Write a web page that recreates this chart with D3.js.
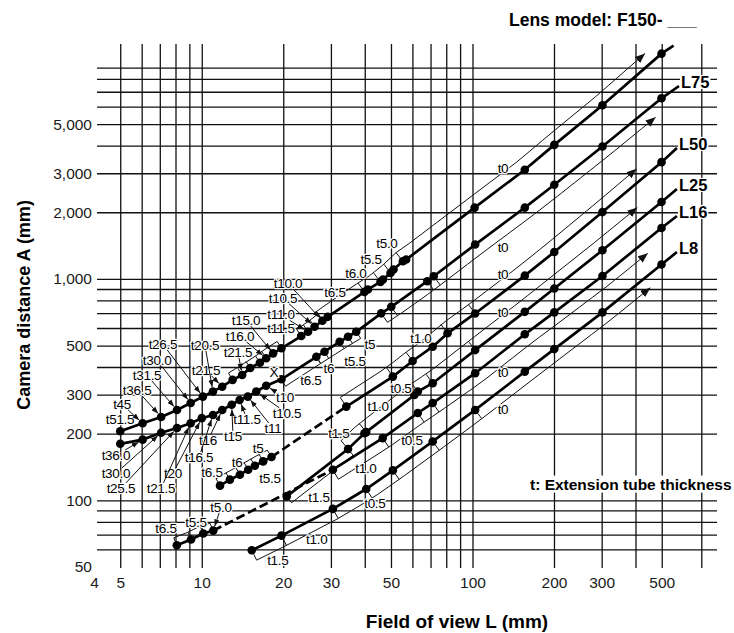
<!DOCTYPE html>
<html><head><meta charset="utf-8">
<script src="https://cdn.jsdelivr.net/npm/d3@7/dist/d3.min.js"></script>
<style>
html,body{margin:0;padding:0;background:#fff;}
svg text{font-family:"Liberation Sans",Arial,Helvetica,sans-serif;}
</style></head>
<body>
<svg id="chart" width="734" height="633" viewBox="0 0 734 633"></svg>
<script>
// ---------- data ----------
const xTickValues=[4,5,10,20,30,50,100,200,300,500];
const yTickValues=[50,100,200,300,500,1000,2000,3000,5000];
const xGridValues=[5,6,7,8,9,10,20,30,40,50,60,70,80,90,100,200,300,400,500,700];
const yGridValues=[60,70,80,90,100,200,300,400,500,600,700,800,900,1000,2000,3000,4000,5000,6000,7000,8000,9000];

const lensNames=["","L75","L50","L25","L16","L8"];

const topDots=[[5,205],[6.05,223],[7.08,238],[8.1,256],[9.1,275],[10.1,294],[11.0,310],[11.9,326],[13.0,350],[14.1,368],[15.1,396],[16.4,418],[17.3,438],[18.35,461],[19.7,486],[23.3,552],[24.7,577],[26.1,608],[27.9,647],[29.2,674],[39.9,874],[41.1,896],[45.7,969],[46.7,994],[49.8,1064],[51.1,1102],[55.3,1201],[56.9,1223],[101.8,2097],[156,3110],[200.5,4030],[302,6080],[499,10400]];
const topEnd=[553,11300];
const l75Dots=[[5,180],[6.05,188],[7.08,202],[8.1,212],[9.1,223],[10.0,235],[11.0,243],[11.9,256],[12.9,270],[13.8,284],[14.8,294],[15.9,310],[17.3,329],[19.7,352],[26.5,445],[28.4,469],[32.3,520],[34.7,548],[37.2,577],[46,699],[50.1,748],[68.1,976],[71.9,1028],[102.3,1429],[156,2097],[200.5,2662],[302,3960],[499,6538]];
const l75End=[579,7432];
const l50Dots=[[11.68,116.5],[12.71,124],[13.83,130.5],[14.84,137.5],[15.71,143.3],[16.86,149.9],[18.1,156.9],[34.2,265],[50.8,362],[60.1,426],[71.3,494],[80.9,568],[102.3,698],[156,1034],[200.5,1323],[302,2003],[499,3366]];
const l50End=[569,3900];
const l50Dashed=[[18.1,34.2]];
const l25Dots=[[20.6,104.2],[34.7,170.4],[39.9,201],[40.5,203.3],[61.0,299],[62.8,310],[71.3,338],[102.3,477],[156,710],[200.5,905],[302,1347],[499,2223]];
const l25End=[569,2547];
const l16Dots=[[8.09,62.7],[9.13,66.5],[10.13,70.8],[11.03,73.0],[30.5,137.5],[46.6,191],[62.8,248],[71.3,275],[102.3,375],[156,562],[200.5,706],[302,1031],[499,1697]];
const l16End=[569,1923];
const l16Dashed=[[11.03,30.5]];
const l8Dots=[[15.3,59.5],[19.7,69.3],[30.5,91.5],[40.5,112.5],[50.8,136.5],[71.3,184.5],[102.3,256],[156,381],[200.5,482],[302,706],[499,1161]];
const l8End=[569,1322];

// range guides: [curve, fromL, toL, side, notch L values]
const arrowGuides=[
 [0,28,460,-1,[39.9,45.7,49.8,55.3]],
 [1,46,448,1,[50.1,68.1,71.9]],
 [2,34.2,429,-1,[50.8,60.1,71.3,80.9,102.3]],
 [3,34.7,431,-1,[40.5,62.8,71.3,102.3]],
 [4,30.5,419,1,[46.6,62.8,71.3]],
 [5,15.3,428,1,[19.7,30.5,40.5,50.8,71.3,102.3]]
];
const bracketGuides=[
 [0,23.3,27.9,-1,[24.7,26.1]],
 [0,13.0,19.7,-1,[14.1,15.1,16.4,17.3,18.35]],
 [1,26.5,37.2,1,[28.4,32.3,34.7]],
 [1,19.7,26.5,1,[]],
 [2,11.68,18.1,-1,[12.71,13.83,14.84,15.71,16.86]],
 [3,20.6,34.7,1,[]],
 [4,8.09,11.03,-1,[9.13,10.13]]
];

// annotations: [curve, text, L, A, arrow target L (or null)]
const annotations=[
 [0,"t51.5",4.99,232,null],[0,"t45",5.08,272,6.05],[0,"t36.5",5.77,315,7.08],[0,"t31.5",6.28,368,8.1],
 [0,"t30.0",6.84,430,9.1],[0,"t26.5",7.19,508,10.1],[0,"t20.5",10.28,503,11.0],[0,"t21.5",10.37,388,11.9],
 [0,"t21.5",13.61,467.6,14.1],[0,"t16.0",13.84,552,17.3],[0,"t15.0",14.57,652,18.35],[0,"t11.5",19.62,598,23.3],
 [0,"t11.0",19.62,690,24.7],[0,"t10.5",19.96,820,26.1],[0,"t10.0",20.83,958,27.9],[0,"t6.5",31.06,873,null],
 [0,"t6.0",37.1,1063,null],[0,"t5.5",42.2,1230,null],[0,"t5.0",48.3,1452,null],[0,"t0",129.6,3168,null],
 [1,"t36.0",4.82,160,6.05],[1,"t30.0",4.82,132.9,7.08],[1,"t25.5",5.03,113.7,8.1],[1,"t21.5",7.07,113.7,9.1],
 [1,"t20",7.83,132.9,10.0],[1,"t16.5",9.77,156.9,11.0],[1,"t16",10.55,187.3,11.9],[1,"t15",13.05,195.2,12.9],
 [1,"t11.5",14.69,233,13.8],[1,"t11",18.33,212,14.8],[1,"t10.5",20.65,248,15.9],[1,"t10",20.3,292.8,17.3],
 [1,"X",18.48,380,null],[1,"t6.5",25.3,349.6,null],[1,"t6",29.5,396,null],[1,"t5.5",36.8,425.8,null],
 [1,"t5",41.8,508,null],[1,"t0",129.6,1393,null],
 [2,"t6.5",10.91,134.3,null],[2,"t6",13.5,149,null],[2,"t5",16.14,172.3,null],[2,"t5.5",17.87,126.2,null],
 [2,"t1.0",64.5,541,null],[2,"t0",129.6,1052,null],
 [3,"t1.5",27.1,103.5,null],[3,"t1.5",32.1,201.5,null],[3,"t1.0",44.8,266.7,null],[3,"t0.5",54.4,321.6,null],
 [3,"t0",129.6,708.7,null],
 [4,"t6.5",7.38,75.0,null],[4,"t5.5",9.52,79.8,null],[4,"t5.0",11.78,93.3,11.03],[4,"t1.0",40.4,140,null],
 [4,"t0.5",59.8,187.3,null],[4,"t0",129.6,380,null],
 [5,"t1.5",19.1,53.8,null],[5,"t1.0",26.6,66.9,null],[5,"t0.5",43.6,97.3,null],[5,"t0",129.6,258.5,null]
];

// ---------- drawing ----------
const svg=d3.select("#chart");
const x=d3.scaleLog().domain([4,800]).range([94,717]);
const y=d3.scaleLog().domain([50,11500]).range([567,44]);

const curves=[
 {dots:topDots,end:topEnd,dash:[]},
 {dots:l75Dots,end:l75End,dash:[]},
 {dots:l50Dots,end:l50End,dash:l50Dashed},
 {dots:l25Dots,end:l25End,dash:[]},
 {dots:l16Dots,end:l16End,dash:l16Dashed},
 {dots:l8Dots,end:l8End,dash:[]}
];
curves.forEach(c=>{c.all=c.dots.concat([c.end]); c.px=c.all.map(d=>[x(d[0]),y(d[1])]);});

function posAt(c,L){
  const px=x(L),P=c.px;let i=0;
  while(i<P.length-2&&P[i+1][0]<px)i++;
  const a=P[i],b=P[i+1];const t=(px-a[0])/(b[0]-a[0]||1);
  return [px,a[1]+t*(b[1]-a[1])];
}
function normalAt(c,L){
  const p1=posAt(c,L/1.3),p2=posAt(c,L*1.3);
  let dx=p2[0]-p1[0],dy=p2[1]-p1[1];const m=Math.hypot(dx,dy)||1;dx/=m;dy/=m;
  return [-dy,dx];
}
function offPt(c,L,d){const p=posAt(c,L),n=normalAt(c,L);return [p[0]+n[0]*d,p[1]+n[1]*d];}

// grid
const grid=svg.append("g");
grid.append("g").attr("transform",`translate(0,${y(50)+1})`)
  .call(d3.axisBottom(x).tickValues(xGridValues).tickSize(-(y(50)+1-y(11500))).tickFormat(""));
grid.append("g").attr("transform",`translate(${x(4)+3},0)`)
  .call(d3.axisLeft(y).tickValues(yGridValues).tickSize(-(x(800)-x(4)-3)).tickFormat(""));
grid.selectAll(".domain").remove();
grid.selectAll(".tick line").attr("stroke","#111").attr("stroke-width",1.3);

// axis labels
const ax=svg.append("g").attr("transform",`translate(0,${y(50)})`)
  .call(d3.axisBottom(x).tickValues(xTickValues).tickSize(0).tickPadding(10).tickFormat(d3.format("d")));
const ay=svg.append("g").attr("transform",`translate(${x(4)+3},0)`)
  .call(d3.axisLeft(y).tickValues(yTickValues).tickSize(0).tickPadding(5).tickFormat(d3.format(",")));
[ax,ay].forEach(g=>{g.select(".domain").remove();g.selectAll("text").attr("font-size",15.5).attr("fill","#1a1a1a").attr("font-family","Liberation Sans, Arial, sans-serif");});

// markers
const defs=svg.append("defs");
defs.append("marker").attr("id","ah").attr("viewBox","0 0 10 8").attr("refX",10).attr("refY",4)
 .attr("markerWidth",10).attr("markerHeight",8).attr("markerUnits","userSpaceOnUse").attr("orient","auto")
 .append("path").attr("d","M0,0L10,4L0,8Z").attr("fill","#111");
defs.append("marker").attr("id","ahs").attr("viewBox","0 0 8 6").attr("refX",8).attr("refY",3)
 .attr("markerWidth",7).attr("markerHeight",5.5).attr("markerUnits","userSpaceOnUse").attr("orient","auto")
 .append("path").attr("d","M0,0L8,3L0,6Z").attr("fill","#111");

// guides
const gGuide=svg.append("g").attr("fill","none").attr("stroke","#111").attr("stroke-width",1);
const lineGen=d3.line();
function drawGuide(g,arrow){
  const [ci,L1,L2,side,notches]=g;const c=curves[ci];const off=(arrow?11:8)*side;
  const samples=[];let L=L1;while(L<L2){samples.push(L);L*=1.12;}samples.push(L2);
  const pts=[posAt(c,L1)].concat(samples.map(s=>offPt(c,s,off)));
  if(!arrow)pts.push(posAt(c,L2));
  const p=gGuide.append("path").attr("d",lineGen(pts));
  if(arrow)p.attr("marker-end","url(#ah)");
  notches.forEach(n=>{gGuide.append("path").attr("d",lineGen([offPt(c,n,off),offPt(c,n,4*side)]));});
}
arrowGuides.forEach(g=>drawGuide(g,true));
bracketGuides.forEach(g=>drawGuide(g,false));

// thick curves
const gCurve=svg.append("g").attr("fill","none").attr("stroke","#000").attr("stroke-width",2.7);
curves.forEach(c=>{
  const isDash=(a,b)=>c.dash.some(s=>a[0]>=s[0]-1e-6&&b[0]<=s[1]+1e-6);
  let run=[c.px[0]],cur=isDash(c.all[0],c.all[1]);
  for(let i=1;i<c.all.length;i++){
    const d=isDash(c.all[i-1],c.all[i]);
    if(d!==cur){gCurve.append("path").attr("d",lineGen(run)).attr("stroke-dasharray",cur?"9,4":null);run=[c.px[i-1]];cur=d;}
    run.push(c.px[i]);
  }
  gCurve.append("path").attr("d",lineGen(run)).attr("stroke-dasharray",cur?"9,4":null);
});
// dots
const gDots=svg.append("g").attr("fill","#000");
curves.forEach(c=>{
  gDots.selectAll(null).data(c.dots).join("circle").attr("cx",d=>x(d[0])).attr("cy",d=>y(d[1])).attr("r",4.3);
});

// curve labels
curves.forEach((c,i)=>{
  if(!lensNames[i])return;
  const g=svg.append("g");
  const ex=x(c.end[0]),ey=y(c.end[1]);
  const r=g.append("rect").attr("fill","#fff");
  const t=g.append("text").attr("x",ex+2).attr("y",ey-4).attr("dy","0.36em")
   .attr("font-size",16.5).attr("font-weight","bold").attr("fill","#000").text(lensNames[i]);
  const bb=t.node().getBBox();
  r.attr("x",bb.x-1).attr("y",bb.y+2).attr("width",bb.width+2).attr("height",bb.height-4);
});

// annotations
const gAnn=svg.append("g");
const gArr=svg.append("g").attr("stroke","#111").attr("stroke-width",1).attr("fill","none");
annotations.forEach(a=>{
  const [ci,txt,L,A,tgt]=a;
  const t=gAnn.append("text").attr("x",x(L)).attr("y",y(A)).attr("dy","0.36em").attr("text-anchor","middle")
   .attr("font-size",13.5).attr("letter-spacing",-0.3).attr("fill","#000")
   .attr("stroke","#fff").attr("stroke-width",2.5).attr("paint-order","stroke").attr("stroke-linejoin","round").text(txt);
  if(tgt!=null){
    const bb=t.node().getBBox();const tp=posAt(curves[ci],tgt);
    const cx=bb.x+bb.width/2,cy=bb.y+bb.height/2;
    const dx=tp[0]-cx,dy=tp[1]-cy;
    const sx=dx!==0?(bb.width/2)/Math.abs(dx):Infinity, sy=dy!==0?(bb.height/2-2)/Math.abs(dy):Infinity;
    const s=Math.min(sx,sy);const st=[cx+dx*s,cy+dy*s];
    const len=Math.hypot(tp[0]-st[0],tp[1]-st[1]);
    if(len>9){const en=[tp[0]-(tp[0]-st[0])/len*4.5,tp[1]-(tp[1]-st[1])/len*4.5];
      gArr.append("path").attr("d",lineGen([st,en])).attr("marker-end","url(#ahs)");}
  }
});

// texts
svg.append("text").attr("x",509).attr("y",26).attr("font-size",17.5).attr("font-weight","bold").attr("fill","#000").text("Lens model: F150- ___");
const gExt=svg.append("g");
const extRect=gExt.append("rect").attr("fill","#fff");
const ext=gExt.append("text").attr("x",530).attr("y",484).attr("dy","0.36em").attr("font-size",15.5).attr("font-weight","bold").attr("fill","#000").text("t: Extension tube thickness");
const eb=ext.node().getBBox();
extRect.attr("x",eb.x-2).attr("y",eb.y).attr("width",eb.width+4).attr("height",eb.height);
svg.append("text").attr("x",457).attr("y",628).attr("text-anchor","middle").attr("font-size",19).attr("font-weight","bold").attr("fill","#000").text("Field of view L (mm)");
svg.append("text").attr("transform","translate(30,305) rotate(-90)").attr("text-anchor","middle").attr("font-size",18).attr("font-weight","bold").attr("fill","#000").text("Camera distance A (mm)");
</script>
</body></html>
